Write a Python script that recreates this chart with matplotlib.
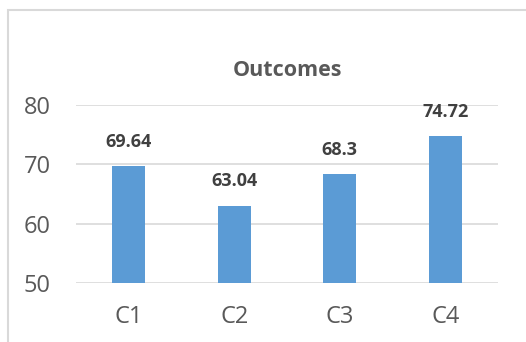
import matplotlib
matplotlib.use('Agg')
import matplotlib.pyplot as plt
from matplotlib.patches import Rectangle

categories = ['C1', 'C2', 'C3', 'C4']
values = [69.64, 63.04, 68.3, 74.72]
y_ticks = [50, 60, 70, 80]
title = 'Outcomes'

plt.rcParams['font.family'] = ['Open Sans', 'DejaVu Sans']

fig = plt.figure(figsize=(5.26, 3.42), dpi=100)

# light frame around the chart area (right and bottom run off the image)
fig.patches.append(Rectangle((8 / 526, -0.1), 1.2, 1 - 10.5 / 342 + 0.1,
                             transform=fig.transFigure, fill=False,
                             edgecolor='#D9D9D9', linewidth=1.5))

ax = fig.add_axes([76 / 526, 1 - 283 / 342, 422 / 526, 178 / 342])
x = range(len(categories))
bars = ax.bar(x, [v - y_ticks[0] for v in values], bottom=y_ticks[0],
              width=0.31, color='#5B9BD5', zorder=3)

for xi, v in zip(x, values):
    ax.annotate(f'{v:g}', (xi, v), xytext=(0, 11), textcoords='offset points',
                ha='center', va='bottom', fontsize=13, fontweight='bold',
                color='#404040')

ax.set_xlim(-0.5, len(categories) - 0.5)
ax.set_ylim(y_ticks[0], y_ticks[-1])
ax.set_yticks(y_ticks)
ax.set_xticks(list(x))
ax.set_xticklabels(categories)
ax.yaxis.grid(True, color='#D9D9D9', linewidth=1.2, zorder=0)
ax.set_axisbelow(True)
for s in ax.spines.values():
    s.set_visible(False)
ax.tick_params(axis='y', length=0, pad=18, labelsize=17, labelcolor='#595959')
ax.tick_params(axis='x', length=0, pad=16, labelsize=17, labelcolor='#595959')

fig.text(287 / 526, 1 - 70 / 342, title, ha='center', va='center',
         fontsize=15.5, fontweight='bold', color='#595959')

fig.savefig('out.png', dpi=100)
